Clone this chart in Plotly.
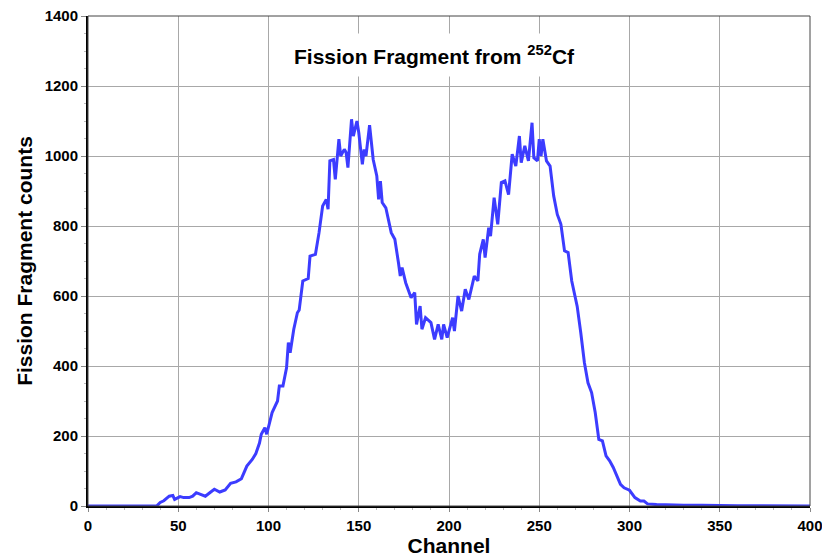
import plotly.graph_objects as go

channels = [0, 38, 40, 42, 45, 47, 48, 51, 53, 56, 58, 60, 62, 65, 68, 70, 73, 76, 79, 82,
            85, 88, 91, 93, 95, 96, 98, 99, 102, 104, 105, 106, 108, 110, 111, 112, 114, 116,
            117, 119, 121, 122, 123, 126, 128, 130, 132, 133, 134, 136, 137, 139, 140, 142,
            143, 144, 146, 147, 149, 150, 152, 153, 154, 156, 158, 160, 161, 162, 163, 165,
            168, 170, 172, 173, 174, 176, 179, 181, 182, 184, 185, 187, 190, 192, 194, 196,
            197, 199, 202, 203, 205, 207, 209, 211, 214, 216, 217, 219, 220, 222, 223, 225,
            227, 229, 231, 233, 235, 237, 239, 240, 242, 244, 246, 247, 249, 250, 251, 252,
            254, 256, 258, 260, 261, 262, 264, 266, 268, 270, 271, 273, 275, 277, 279, 281,
            283, 285, 287, 289, 291, 293, 295, 297, 300, 303, 306, 308, 310, 315, 320, 330,
            340, 350, 360, 400]
counts = [0, 0, 10, 15, 28, 30, 19, 27, 24, 24, 28, 38, 34, 28, 40, 48, 40, 46, 65, 69,
          78, 114, 133, 150, 180, 205, 224, 205, 267, 290, 300, 343, 343, 395, 467, 438, 505, 552,
          560, 643, 648, 650, 714, 719, 781, 857, 876, 848, 986, 990, 933, 1048, 1000, 1019,
          1010, 967, 1105, 1057, 1100, 1067, 976, 1019, 1000, 1088, 990, 943, 876, 928, 867, 852,
          781, 762, 695, 657, 681, 638, 595, 610, 519, 571, 505, 538, 524, 476, 519, 476,
          519, 481, 538, 500, 600, 557, 619, 590, 657, 643, 719, 762, 710, 795, 771, 881,
          805, 924, 929, 890, 1005, 971, 1057, 981, 1029, 986, 1095, 995, 986, 1048, 1000, 1048,
          986, 971, 886, 833, 819, 805, 729, 724, 643, 600, 571, 495, 410, 352, 324, 267,
          190, 186, 143, 129, 110, 86, 62, 52, 45, 24, 14, 14, 6, 4, 3, 2,
          2, 1, 1, 0]

x_ticks = [0, 50, 100, 150, 200, 250, 300, 350, 400]
y_ticks = [0, 200, 400, 600, 800, 1000, 1200, 1400]

FONT = "Liberation Sans, Arial, sans-serif"

fig = go.Figure()
fig.add_trace(go.Scatter(x=channels, y=counts, mode="lines",
                         line=dict(color="#3c3cff", width=3), showlegend=False))

# page body adds ~8px offset; figure sized to fit the 830x558 window
fig.update_layout(
    width=822, height=550,
    margin=dict(l=80, r=20, t=8, b=52),
    paper_bgcolor="white", plot_bgcolor="white",
    font=dict(family=FONT, color="black"),
    xaxis=dict(range=[0, 400], tickvals=x_ticks, showgrid=True, gridcolor="#a8a8a8", gridwidth=1,
               showline=True, linecolor="black", linewidth=2, zeroline=False, automargin=False,
               ticks="outside", ticklen=4, tickcolor="#888", ticklabelstandoff=1,
               ticklabeloverflow="allow",
               minor=dict(dtick=10, ticks="outside", ticklen=2, tickcolor="#bbb", showgrid=False),
               tickfont=dict(size=15, weight="bold", family=FONT),
               title=dict(text="Channel", font=dict(size=21, weight="bold", family=FONT), standoff=0)),
    yaxis=dict(range=[0, 1400], tickvals=y_ticks, showgrid=True, gridcolor="#a8a8a8", gridwidth=1,
               showline=True, linecolor="black", linewidth=2, zeroline=False, automargin=False,
               ticks="outside", ticklen=5, tickcolor="#888", ticklabeloverflow="allow",
               minor=dict(dtick=50, ticks="outside", ticklen=2, tickcolor="#bbb", showgrid=False),
               tickfont=dict(size=15, weight="bold", family=FONT),
               title=dict(text="Fission Fragment counts", font=dict(size=21, weight="bold", family=FONT), standoff=6)),
)

fig.add_shape(type="rect", xref="paper", yref="paper", x0=0, x1=1, y0=0, y1=1,
              line=dict(color="#444", width=1), layer="above")

fig.add_annotation(xref="paper", yref="paper", x=0.48, y=0.92, xanchor="center", yanchor="middle",
                   text="Fission Fragment from <sup>252</sup>Cf", showarrow=False,
                   font=dict(size=21, weight="bold", family=FONT, color="black"),
                   bgcolor="white", borderpad=8)

fig.write_html("out.html")
